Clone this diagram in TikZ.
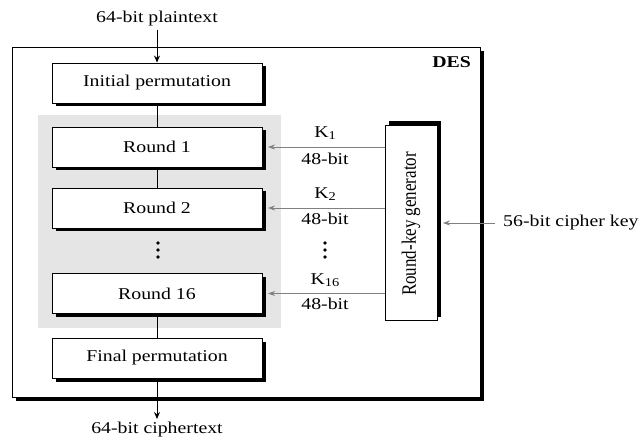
\documentclass[tikz,border=0pt]{standalone}
\usepackage{fontspec}
\setmainfont{Liberation Serif}[FakeStretch=1.2]
\newfontfamily\plainserif{Liberation Serif}
\usetikzlibrary{arrows.meta,shadows}
\newcommand{\ksub}[1]{K\raisebox{-0.35ex}{\fontsize{12}{12}\selectfont #1}}
\begin{document}
\begin{tikzpicture}[x=1pt,y=-1pt,
  txt/.style={font=\fontsize{16.5}{20}\selectfont, inner sep=0pt},
  stagebox/.style={draw=black, line width=0.9pt, fill=white, minimum width=210pt, minimum height=40pt,
     inner sep=0pt, font=\fontsize{16.5}{20}\selectfont,
     drop shadow={shadow xshift=3.5pt, shadow yshift=-3.5pt, opacity=1, fill=black}},
  keyarrow/.style={draw=gray, line width=0.8pt, -{Stealth[length=7pt,width=5pt]}},
  mainarrow/.style={draw=black, line width=1pt, -{Stealth[length=7pt,width=6pt]}},
  link/.style={draw=black, line width=1pt},
  dotmark/.style={circle, fill=black, inner sep=0pt, minimum size=3.6pt}
]
\useasboundingbox (0,0) rectangle (642,438);

% outer box
\node[draw=black, line width=0.9pt, fill=white, minimum width=468pt, minimum height=350pt, inner sep=0pt,
  drop shadow={shadow xshift=4pt, shadow yshift=-4pt, opacity=1, fill=black}] (des) at (246,222) {};
\node[txt, anchor=east, font=\fontsize{16.5}{20}\selectfont\bfseries] (deslabel) at (471,62) {DES};

% grey region
\node[fill=gray!20, minimum width=243pt, minimum height=213pt, inner sep=0pt] (grey) at (159.5,221.5) {};

% stages
\node[stagebox] (ip) at (157,83) {Initial permutation};
\node[stagebox] (r1) at (157,147) {Round 1};
\node[stagebox] (r2) at (157,208) {Round 2};
\node[stagebox] (r16) at (157,293.5) {Round 16};
\node[stagebox] (fp) at (157,358) {Final permutation};

\draw[link] (ip.south) -- (r1.north);
\draw[link] (r1.south) -- (r2.north);
\draw[link] (r16.south) -- (fp.north);

\node[dotmark] (d1) at (158,243) {};
\node[dotmark] (d2) at (158,250) {};
\node[dotmark] (d3) at (158,257) {};

% plaintext / ciphertext
\node[txt] (pt) at (157,19) {64-bit plaintext};
\draw[mainarrow] (pt.south) ++(0,3) coordinate (ptarr) -- (ip.north);
\node[txt] (ct) at (157,430) {64-bit ciphertext};
\coordinate (ctend) at (157,419);
\draw[mainarrow] (fp.south) -- (ctend);

% round-key generator
\node[draw=black, line width=0.9pt, fill=white, minimum width=52pt, minimum height=195pt, inner sep=0pt,
  drop shadow={shadow xshift=4pt, shadow yshift=3.5pt, opacity=1, fill=black}] (rkg) at (411,222.5) {};
\node[rotate=90, inner sep=0pt, font=\plainserif\fontsize{17}{20}\selectfont] (rkgtext) at (411,224) {\scalebox{1}[1.2]{Round-key generator}};

% key arrows
\coordinate (t1) at (268,147);
\coordinate (t2) at (268,208);
\coordinate (t16) at (268,293.5);
\draw[keyarrow] (rkg.west |- t1) -- (t1);
\draw[keyarrow] (rkg.west |- t2) -- (t2);
\draw[keyarrow] (rkg.west |- t16) -- (t16);

\node[txt] (k1) at (325,133) {\ksub{1}};
\node[txt] (b1) at (325,159) {48-bit};
\node[txt] (k2) at (325,194) {\ksub{2}};
\node[txt] (b2) at (325,219) {48-bit};
\node[txt] (k16) at (325,280) {\ksub{16}};
\node[txt] (b16) at (325,304) {48-bit};

\node[dotmark] (e1) at (325,243) {};
\node[dotmark] (e2) at (325,250) {};
\node[dotmark] (e3) at (325,257) {};

% cipher key
\node[txt, anchor=west] (ck) at (503,223) {56-bit cipher key};
\coordinate (ckend) at (443,223);
\draw[keyarrow] (ck.west) ++(-8,0) coordinate (ckstart) -- (ckend);
\end{tikzpicture}
\end{document}
